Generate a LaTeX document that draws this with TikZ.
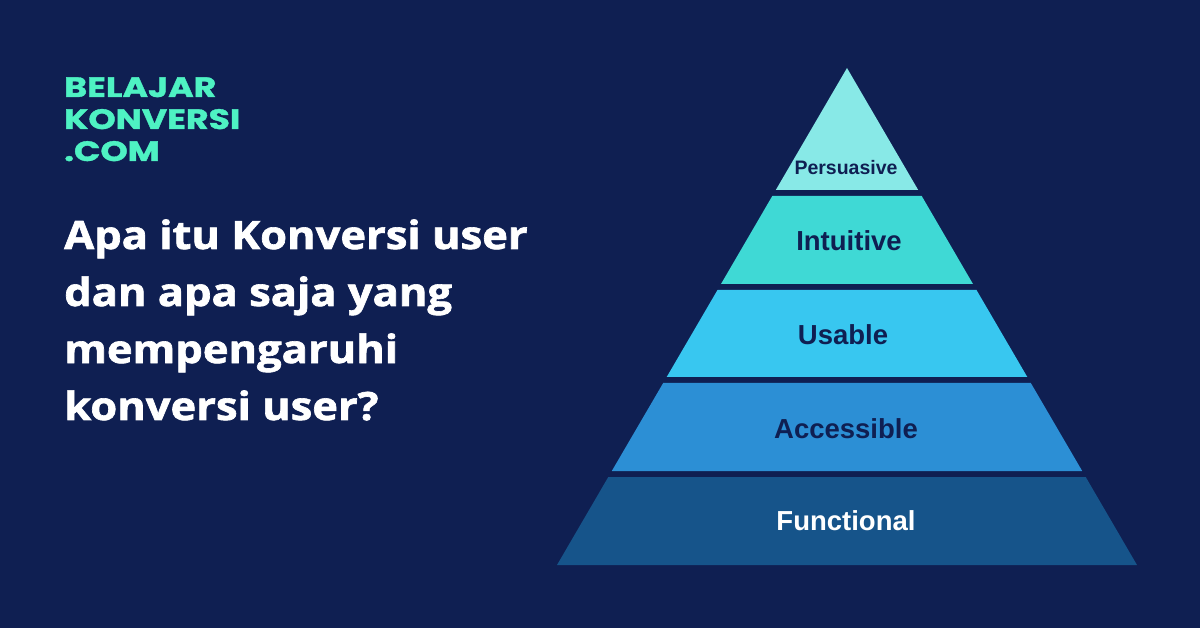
\documentclass[tikz,border=0pt]{standalone}
\usepackage{fontspec}
\setmainfont{Open Sans}
\newfontfamily\headfont{Open Sans}[BoldFeatures={FakeBold=1.6}]
\newfontfamily\logofont{Poppins}[BoldFeatures={FakeBold=1.2}]
\newfontfamily\labelfont{Liberation Sans}
\definecolor{navy}{HTML}{0F1F52}
\definecolor{mint}{HTML}{4EF2C3}
\definecolor{lvlA}{HTML}{88E9E7}
\definecolor{lvlB}{HTML}{3FD9D5}
\definecolor{lvlC}{HTML}{38C7F0}
\definecolor{lvlD}{HTML}{2C8FD5}
\definecolor{lvlE}{HTML}{16548A}
\tikzset{
  logo/.style={anchor=base west, inner sep=0pt, text=mint, xscale=1.24,
    font=\logofont\bfseries\fontsize{28}{32}\selectfont},
  headline/.style={anchor=base west, inner sep=0pt, text=white, xscale=1.115,
    font=\headfont\bfseries\fontsize{39}{46}\selectfont},
  lvltext/.style={inner sep=0pt, text=navy,
    font=\labelfont\bfseries\fontsize{27.5}{32}\selectfont},
}
\begin{document}
\begin{tikzpicture}[x=1pt,y=-1pt]
  % canvas
  \fill[navy] (0,0) rectangle (1200,628);
  \useasboundingbox (0,0) rectangle (1200,628);

  % logo
  \node[logo] (logo1) at (64,97) {BELAJAR};
  \node[logo] (logo2) at (64,129) {KONVERSI};
  \node[logo] (logo3) at (64,161) {.COM};

  % headline
  \node[headline] (h1) at (64,249) {Apa itu Konversi user};
  \node[headline] (h2) at (64,306) {dan apa saja yang};
  \node[headline] (h3) at (64,363) {mempengaruhi};
  \node[headline] (h4) at (64,420) {konversi user?};

  % pyramid, sliced into five levels
  \fill[lvlA] (847,68) -- (918.2,190) -- (775.8,190) -- cycle;
  \fill[lvlB] (772.3,196) -- (921.7,196) -- (973.0,284) -- (721.0,284) -- cycle;
  \fill[lvlC] (717.5,290) -- (976.5,290) -- (1027.3,377) -- (666.7,377) -- cycle;
  \fill[lvlD] (663.2,383) -- (1030.8,383) -- (1082.2,471) -- (611.8,471) -- cycle;
  \fill[lvlE] (608.3,477) -- (1085.7,477) -- (1137,565) -- (557,565) -- cycle;

  % level labels
  \node[lvltext, font=\labelfont\bfseries\fontsize{19.5}{23}\selectfont] (p1) at (846,168) {Persuasive};
  \node[lvltext] (p2) at (849,241) {Intuitive};
  \node[lvltext] (p3) at (843,335) {Usable};
  \node[lvltext] (p4) at (846,429) {Accessible};
  \node[lvltext, text=white] (p5) at (846,521) {Functional};
\end{tikzpicture}
\end{document}
